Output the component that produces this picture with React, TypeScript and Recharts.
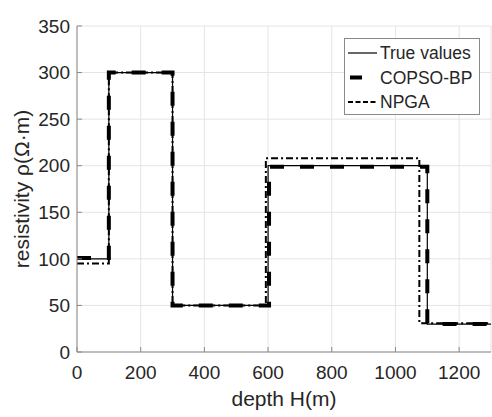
import React from 'react';
import { LineChart, Line, XAxis, YAxis, CartesianGrid, Legend } from 'recharts';

// axis ticks
const depthTicks = [0, 200, 400, 600, 800, 1000, 1200];
const rhoTicks = [0, 50, 100, 150, 200, 250, 300, 350];

// layer boundaries (m) and resistivity of each layer (ohm·m)
const trueDepths = [0, 100, 300, 600, 1100, 1300];
const trueRho = [100, 300, 50, 200, 30];
const copsoDepths = [0, 100, 300, 603, 1100, 1300];
const copsoRho = [101, 300, 50, 199, 30];
const npgaDepths = [0, 100, 300, 593, 1075, 1300];
const npgaRho = [95, 300, 50, 208, 31];

const FONT = '"Liberation Sans", Arial, Helvetica, sans-serif';
const TEXT = '#262626';
const AXIS = '#8a8a8a';

// last boundary repeats the last layer value so stepAfter draws to the end
const toSteps = (depths: number[], rho: number[]) =>
  depths.map((d, i) => ({ depth: d, rho: rho[Math.min(i, rho.length - 1)] }));

const series = [
  { name: 'True values', data: toSteps(trueDepths, trueRho), width: 1.2, dash: undefined, legendDash: undefined },
  { name: 'COPSO-BP', data: toSteps(copsoDepths, copsoRho), width: 4, dash: '14 16', legendDash: '0 2 12 30' },
  { name: 'NPGA', data: toSteps(npgaDepths, npgaRho), width: 2, dash: '7 3 2 3', legendDash: '5 2.5' },
];

const LegendBox = () => (
  <svg width={137} height={78} style={{ display: 'block' }}>
    <rect x={0.5} y={0.5} width={135} height={76} fill="#fff" stroke={AXIS} />
    {series.map((s, i) => {
      const cy = 15 + i * 24.5;
      return (
        <g key={s.name}>
          <line x1={4} x2={33} y1={cy} y2={cy} stroke="#000" strokeWidth={s.width} strokeDasharray={s.legendDash} />
          <text x={36} y={cy + 6} fontSize={17.5} fontFamily={FONT} fill={TEXT}>{s.name}</text>
        </g>
      );
    })}
  </svg>
);

const noTick = () => <g />;

export default function App() {
  return (
    <div style={{ position: 'absolute', left: 0, top: 0, width: 492, height: 417, background: '#fff' }}>
      <LineChart width={492} height={417} margin={{ top: 26, right: 1, bottom: 0, left: 0 }}>
        <CartesianGrid stroke="#e4e4e4" />
        <XAxis
          type="number" dataKey="depth" domain={[0, 1300]} ticks={depthTicks} interval={0}
          allowDataOverflow height={65} stroke={AXIS} tickSize={-5} tickMargin={19}
          tick={{ fill: TEXT, fontSize: 19, fontFamily: FONT }}
        />
        <XAxis
          xAxisId="top" orientation="top" type="number" domain={[0, 1300]} ticks={depthTicks}
          interval={0} height={0} stroke={AXIS} tickSize={-5} tick={noTick}
        />
        <YAxis
          type="number" domain={[0, 350]} ticks={rhoTicks} interval={0} width={77}
          stroke={AXIS} tickSize={-5} tickMargin={12}
          tick={{ fill: TEXT, fontSize: 19, fontFamily: FONT }}
        />
        <YAxis
          yAxisId="right" orientation="right" type="number" domain={[0, 350]} ticks={rhoTicks}
          interval={0} width={0} stroke={AXIS} tickSize={-5} tick={noTick}
        />
        {series.map((s) => (
          <Line
            key={s.name}
            data={s.data}
            dataKey="rho"
            name={s.name}
            type="stepAfter"
            stroke="#000"
            strokeWidth={s.width}
            strokeDasharray={s.dash}
            dot={false}
            activeDot={false}
            isAnimationActive={false}
          />
        ))}
        <Legend
          layout="vertical" align="center" verticalAlign="middle"
          wrapperStyle={{ left: 344, top: 38, width: 137, height: 78 }}
          content={() => <LegendBox />}
        />
      </LineChart>
      <svg width={492} height={417} style={{ position: 'absolute', left: 0, top: 0, pointerEvents: 'none' }}>
        <text x={284} y={406} textAnchor="middle" fontSize={21} fontFamily={FONT} fill={TEXT}>depth H(m)</text>
        <text
          x={29} y={189} textAnchor="middle" fontSize={21} fontFamily={FONT} fill={TEXT}
          transform="rotate(-90 29 189)"
        >
          resistivity ρ(Ω·m)
        </text>
      </svg>
    </div>
  );
}
